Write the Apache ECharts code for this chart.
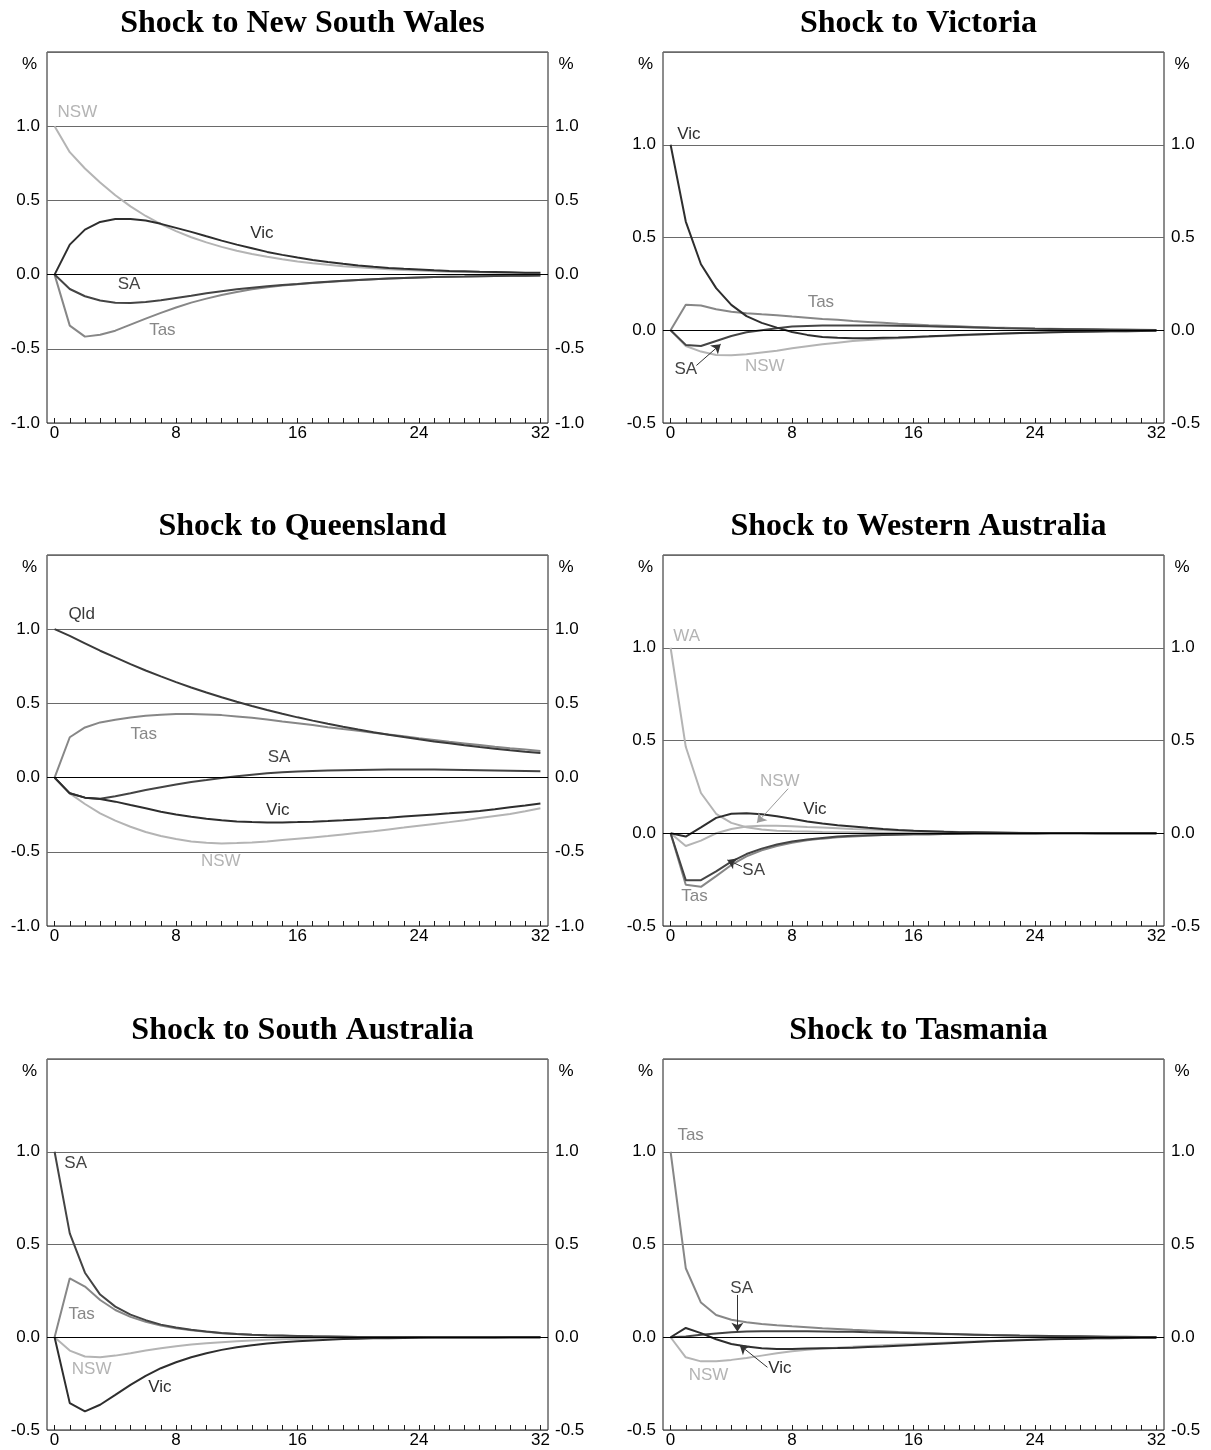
<!DOCTYPE html>
<html>
<head>
<meta charset="utf-8">
<script src="https://cdn.jsdelivr.net/npm/echarts@6/dist/echarts.min.js"></script>
<style>
  html, body { margin: 0; padding: 0; background: #fff; }
  #chart { width: 1211px; height: 1450px; }
</style>
</head>
<body>
<div id="chart"></div>
<script>
// quarters after the shock
const steps = [0, 1, 2, 3, 4, 5, 6, 7, 8, 9, 10, 11, 12, 13, 14, 15, 16, 17, 18, 19, 20, 21, 22, 23, 24, 25, 26, 27, 28, 29, 30, 31, 32]
const xLabels = [0, 8, 16, 24, 32]

// shock to New South Wales
const nsw1 = [1.0, 0.825, 0.715, 0.62, 0.535, 0.46, 0.395, 0.34, 0.293, 0.252, 0.217, 0.187, 0.161, 0.139, 0.12, 0.103, 0.089, 0.077, 0.066, 0.057, 0.049, 0.042, 0.036, 0.031, 0.027, 0.023, 0.02, 0.017, 0.015, 0.013, 0.011, 0.01, 0.009]
const vic1 = [0, 0.202, 0.303, 0.355, 0.375, 0.375, 0.364, 0.342, 0.315, 0.288, 0.258, 0.229, 0.202, 0.178, 0.153, 0.133, 0.115, 0.099, 0.085, 0.073, 0.062, 0.053, 0.045, 0.039, 0.034, 0.029, 0.025, 0.022, 0.019, 0.017, 0.015, 0.013, 0.012]
const sa1 = [0, -0.097, -0.146, -0.175, -0.189, -0.191, -0.184, -0.173, -0.157, -0.142, -0.126, -0.112, -0.099, -0.088, -0.079, -0.07, -0.063, -0.055, -0.048, -0.042, -0.036, -0.031, -0.027, -0.023, -0.02, -0.017, -0.015, -0.013, -0.011, -0.009, -0.008, -0.007, -0.006]
const tas1 = [0, -0.344, -0.418, -0.405, -0.378, -0.337, -0.297, -0.258, -0.222, -0.189, -0.162, -0.137, -0.117, -0.099, -0.085, -0.074, -0.065, -0.057, -0.05, -0.043, -0.037, -0.032, -0.027, -0.023, -0.02, -0.017, -0.015, -0.013, -0.011, -0.009, -0.008, -0.007, -0.006]

// shock to Victoria
const vic2 = [1.0, 0.586, 0.356, 0.227, 0.137, 0.076, 0.04, 0.014, -0.009, -0.025, -0.036, -0.041, -0.043, -0.043, -0.041, -0.039, -0.036, -0.033, -0.029, -0.026, -0.023, -0.02, -0.017, -0.015, -0.013, -0.011, -0.009, -0.008, -0.007, -0.006, -0.005, -0.004, -0.003]
const tas2 = [0, 0.138, 0.133, 0.113, 0.1, 0.092, 0.086, 0.081, 0.074, 0.068, 0.061, 0.056, 0.05, 0.045, 0.04, 0.035, 0.031, 0.027, 0.024, 0.021, 0.018, 0.015, 0.013, 0.011, 0.009, 0.008, 0.007, 0.006, 0.005, 0.004, 0.003, 0.003, 0.002]
const sa2 = [0, -0.079, -0.085, -0.058, -0.031, -0.011, 0.0, 0.011, 0.02, 0.023, 0.025, 0.026, 0.026, 0.026, 0.025, 0.024, 0.023, 0.021, 0.019, 0.017, 0.015, 0.013, 0.011, 0.01, 0.008, 0.007, 0.006, 0.005, 0.004, 0.003, 0.003, 0.002, 0.002]
const nsw2 = [0, -0.085, -0.115, -0.133, -0.135, -0.13, -0.12, -0.11, -0.097, -0.086, -0.076, -0.067, -0.058, -0.052, -0.047, -0.043, -0.039, -0.035, -0.031, -0.028, -0.024, -0.021, -0.018, -0.016, -0.014, -0.012, -0.01, -0.009, -0.008, -0.006, -0.005, -0.004, -0.004]

// shock to Queensland
const qld3 = [1.0, 0.955, 0.905, 0.855, 0.81, 0.765, 0.722, 0.682, 0.643, 0.607, 0.573, 0.541, 0.511, 0.483, 0.456, 0.43, 0.406, 0.384, 0.363, 0.343, 0.324, 0.306, 0.289, 0.273, 0.258, 0.244, 0.231, 0.218, 0.206, 0.195, 0.184, 0.174, 0.165]
const tas3 = [0, 0.272, 0.338, 0.372, 0.39, 0.405, 0.417, 0.423, 0.428, 0.428, 0.426, 0.421, 0.412, 0.403, 0.392, 0.378, 0.367, 0.354, 0.34, 0.327, 0.315, 0.303, 0.291, 0.278, 0.265, 0.253, 0.241, 0.23, 0.219, 0.208, 0.198, 0.189, 0.18]
const sa3 = [0, -0.106, -0.135, -0.142, -0.126, -0.106, -0.083, -0.065, -0.047, -0.029, -0.016, -0.002, 0.009, 0.02, 0.029, 0.036, 0.041, 0.045, 0.048, 0.05, 0.052, 0.053, 0.054, 0.054, 0.054, 0.054, 0.053, 0.052, 0.05, 0.048, 0.046, 0.044, 0.042]
const vic3 = [0, -0.106, -0.135, -0.144, -0.162, -0.185, -0.207, -0.23, -0.248, -0.264, -0.277, -0.288, -0.295, -0.3, -0.302, -0.302, -0.3, -0.297, -0.293, -0.288, -0.282, -0.276, -0.27, -0.262, -0.255, -0.248, -0.241, -0.233, -0.225, -0.213, -0.2, -0.188, -0.175]
const nsw3 = [0, -0.106, -0.178, -0.241, -0.29, -0.331, -0.367, -0.394, -0.414, -0.43, -0.439, -0.444, -0.441, -0.437, -0.43, -0.421, -0.412, -0.403, -0.394, -0.383, -0.372, -0.361, -0.349, -0.337, -0.324, -0.312, -0.3, -0.287, -0.273, -0.259, -0.245, -0.227, -0.207]

// shock to Western Australia
const wa4 = [1.0, 0.466, 0.217, 0.105, 0.056, 0.032, 0.02, 0.014, 0.011, 0.009, 0.007, 0.006, 0.005, 0.004, 0.003, 0.003, 0.002, 0.002, 0.001, 0.001, 0.001, 0.001, 0.001, 0, 0, 0, 0, 0, 0, 0, 0, 0, 0]
const nsw4 = [0, -0.069, -0.04, 0.0, 0.023, 0.036, 0.04, 0.04, 0.038, 0.034, 0.031, 0.027, 0.023, 0.02, 0.018, 0.015, 0.013, 0.011, 0.009, 0.007, 0.006, 0.005, 0.004, 0.003, 0.002, 0.002, 0.001, 0.001, 0.001, 0, 0, 0, 0]
const vic4 = [0, -0.018, 0.032, 0.083, 0.105, 0.108, 0.103, 0.092, 0.078, 0.063, 0.052, 0.043, 0.036, 0.029, 0.023, 0.018, 0.014, 0.011, 0.008, 0.006, 0.005, 0.004, 0.003, 0.002, 0.002, 0.001, 0.001, 0.001, 0, 0, 0, 0, 0]
const sa4 = [0, -0.253, -0.253, -0.206, -0.153, -0.112, -0.083, -0.061, -0.045, -0.034, -0.025, -0.018, -0.014, -0.011, -0.009, -0.007, -0.006, -0.005, -0.004, -0.003, -0.002, -0.002, -0.001, -0.001, -0.001, 0, 0, 0, 0, 0, 0, 0, 0]
const tas4 = [0, -0.278, -0.289, -0.231, -0.171, -0.125, -0.092, -0.069, -0.051, -0.038, -0.029, -0.022, -0.017, -0.013, -0.01, -0.008, -0.006, -0.005, -0.004, -0.003, -0.002, -0.002, -0.001, -0.001, -0.001, 0, 0, 0, 0, 0, 0, 0, 0]

// shock to South Australia
const sa5 = [1.0, 0.56, 0.348, 0.23, 0.165, 0.122, 0.092, 0.068, 0.052, 0.04, 0.031, 0.023, 0.018, 0.014, 0.011, 0.009, 0.007, 0.005, 0.004, 0.003, 0.002, 0.002, 0.001, 0.001, 0.001, 0, 0, 0, 0, 0, 0, 0, 0]
const tas5 = [0, 0.318, 0.273, 0.201, 0.147, 0.11, 0.083, 0.063, 0.048, 0.038, 0.029, 0.022, 0.017, 0.013, 0.01, 0.008, 0.006, 0.005, 0.004, 0.003, 0.002, 0.002, 0.001, 0.001, 0.001, 0, 0, 0, 0, 0, 0, 0, 0]
const nsw5 = [0, -0.072, -0.104, -0.108, -0.099, -0.086, -0.072, -0.059, -0.048, -0.039, -0.032, -0.027, -0.022, -0.018, -0.014, -0.011, -0.009, -0.007, -0.005, -0.004, -0.003, -0.002, -0.002, -0.001, -0.001, 0, 0, 0, 0, 0, 0, 0, 0]
const vic5 = [0, -0.355, -0.4, -0.364, -0.311, -0.257, -0.208, -0.167, -0.135, -0.108, -0.086, -0.068, -0.054, -0.043, -0.034, -0.027, -0.022, -0.017, -0.013, -0.01, -0.008, -0.006, -0.005, -0.004, -0.003, -0.002, -0.002, -0.001, -0.001, -0.001, 0, 0, 0]

// shock to Tasmania
const tas6 = [1.0, 0.372, 0.187, 0.12, 0.094, 0.081, 0.072, 0.065, 0.059, 0.054, 0.049, 0.045, 0.04, 0.036, 0.032, 0.028, 0.025, 0.022, 0.019, 0.016, 0.014, 0.012, 0.01, 0.008, 0.007, 0.006, 0.005, 0.004, 0.003, 0.002, 0.002, 0.001, 0.001]
const sa6 = [0, 0.004, 0.013, 0.02, 0.027, 0.031, 0.032, 0.032, 0.032, 0.032, 0.031, 0.03, 0.029, 0.027, 0.026, 0.024, 0.022, 0.02, 0.018, 0.016, 0.014, 0.012, 0.011, 0.009, 0.008, 0.007, 0.006, 0.005, 0.004, 0.003, 0.003, 0.002, 0.002]
const vic6 = [0, 0.05, 0.022, -0.011, -0.036, -0.05, -0.059, -0.063, -0.063, -0.061, -0.059, -0.058, -0.056, -0.053, -0.05, -0.046, -0.042, -0.038, -0.034, -0.03, -0.026, -0.022, -0.019, -0.016, -0.013, -0.011, -0.009, -0.008, -0.006, -0.005, -0.004, -0.003, -0.003]
const nsw6 = [0, -0.108, -0.13, -0.13, -0.122, -0.112, -0.099, -0.086, -0.076, -0.068, -0.061, -0.056, -0.051, -0.047, -0.043, -0.039, -0.036, -0.032, -0.029, -0.026, -0.023, -0.02, -0.017, -0.014, -0.012, -0.01, -0.008, -0.007, -0.006, -0.005, -0.004, -0.003, -0.003]

const stateColors = {
  NSW: '#b4b4b4',
  WA: '#b4b4b4',
  Tas: '#878787',
  Vic: '#2e2e2e',
  SA: '#444444',
  Qld: '#3a3a3a'
}

// tag = where the state name sits, arrow = pointer from the name to its line (data units)
const panels = [
  { title: 'Shock to New South Wales', yMin: -1, lines: [
    { name: 'NSW', data: nsw1, tag: [1.5, 1.095] },
    { name: 'Tas', data: tas1, tag: [7.1, -0.378] },
    { name: 'SA', data: sa1, tag: [4.9, -0.068] },
    { name: 'Vic', data: vic1, tag: [13.65, 0.277] }
  ]},
  { title: 'Shock to Victoria', yMin: -0.5, lines: [
    { name: 'NSW', data: nsw2, tag: [6.2, -0.192] },
    { name: 'Tas', data: tas2, tag: [9.9, 0.152] },
    { name: 'SA', data: sa2, tag: [1.0, -0.213], arrow: [[1.7, -0.19], [3.3, -0.075]] },
    { name: 'Vic', data: vic2, tag: [1.2, 1.056] }
  ]},
  { title: 'Shock to Queensland', yMin: -1, lines: [
    { name: 'NSW', data: nsw3, tag: [10.95, -0.566] },
    { name: 'Tas', data: tas3, tag: [5.87, 0.29] },
    { name: 'SA', data: sa3, tag: [14.78, 0.135] },
    { name: 'Vic', data: vic3, tag: [14.7, -0.222] },
    { name: 'Qld', data: qld3, tag: [1.78, 1.098] }
  ]},
  { title: 'Shock to Western Australia', yMin: -0.5, lines: [
    { name: 'WA', data: wa4, tag: [1.06, 1.063] },
    { name: 'NSW', data: nsw4, tag: [7.19, 0.279], arrow: [[7.74, 0.24], [5.69, 0.056]] },
    { name: 'Tas', data: tas4, tag: [1.58, -0.342] },
    { name: 'SA', data: sa4, tag: [5.47, -0.202], arrow: [[4.7, -0.18], [3.74, -0.144]] },
    { name: 'Vic', data: vic4, tag: [9.5, 0.129] }
  ]},
  { title: 'Shock to South Australia', yMin: -0.5, lines: [
    { name: 'NSW', data: nsw5, tag: [2.44, -0.171] },
    { name: 'Tas', data: tas5, tag: [1.78, 0.126] },
    { name: 'SA', data: sa5, tag: [1.39, 0.935] },
    { name: 'Vic', data: vic5, tag: [6.93, -0.268] }
  ]},
  { title: 'Shock to Tasmania', yMin: -0.5, lines: [
    { name: 'NSW', data: nsw6, tag: [2.5, -0.203] },
    { name: 'Tas', data: tas6, tag: [1.32, 1.086] },
    { name: 'SA', data: sa6, tag: [4.68, 0.266], arrow: [[4.4, 0.228], [4.4, 0.03]] },
    { name: 'Vic', data: vic6, tag: [7.2, -0.166], arrow: [[6.38, -0.162], [4.55, -0.042]] }
  ]}
]

const boxes = [
  { left: 47, top: 52, tTop: 3 }, { left: 663, top: 52, tTop: 3 },
  { left: 47, top: 555, tTop: 506 }, { left: 663, top: 555, tTop: 506 },
  { left: 47, top: 1059, tTop: 1010 }, { left: 663, top: 1059, tTop: 1010 }
]
const boxW = 501
const boxH = 371
const sans = 'Liberation Sans, Arial, sans-serif'
const textStyle = { fontFamily: sans, fontSize: 17, color: '#000' }

const chart = echarts.init(document.getElementById('chart'), null, { renderer: 'canvas' })

const title = []
const grid = []
const xAxis = []
const yAxis = []
const series = []

panels.forEach((p, i) => {
  const b = boxes[i]
  title.push({
    text: p.title,
    left: b.left + boxW / 2,
    top: b.tTop,
    textAlign: 'center',
    textStyle: { fontFamily: 'Liberation Serif, Times New Roman, serif', fontWeight: 'bold', fontSize: 32, color: '#000' }
  })
  grid.push({
    left: b.left, top: b.top, width: boxW, height: boxH,
    show: true, borderColor: '#1a1a1a', borderWidth: 1, backgroundColor: 'transparent'
  })
  xAxis.push({
    gridIndex: i,
    type: 'value',
    min: -0.5,
    max: 32.5,
    axisLine: { show: false, onZero: false },
    axisTick: { show: true, inside: true, length: 5, customValues: steps, lineStyle: { color: '#1a1a1a', width: 1 } },
    axisLabel: { customValues: xLabels, margin: 2, ...textStyle },
    splitLine: { show: false }
  })
  const yBase = {
    gridIndex: i,
    type: 'value',
    min: p.yMin,
    max: 1.5,
    interval: 0.5,
    name: '%',
    nameLocation: 'end',
    nameGap: -12,
    axisLine: { show: false },
    axisTick: { show: false },
    axisLabel: { margin: 7, formatter: v => (v > 1.2 ? '' : v.toFixed(1)), ...textStyle }
  }
  yAxis.push({
    ...yBase,
    position: 'left',
    nameTextStyle: { ...textStyle, align: 'center', verticalAlign: 'middle', padding: [0, 50, 0, 0] },
    splitLine: { show: true, lineStyle: { color: '#6a6a6a', width: 1 } }
  })
  yAxis.push({
    ...yBase,
    position: 'right',
    nameTextStyle: { ...textStyle, align: 'center', verticalAlign: 'middle', padding: [0, 0, 0, 36] },
    splitLine: { show: false }
  })

  // black zero line
  series.push({
    type: 'line',
    xAxisIndex: i,
    yAxisIndex: 2 * i,
    data: [],
    silent: true,
    z: 1,
    markLine: {
      silent: true,
      symbol: 'none',
      animation: false,
      label: { show: false },
      lineStyle: { color: '#000', width: 1, type: 'solid' },
      data: [{ yAxis: 0 }]
    }
  })

  p.lines.forEach(l => {
    const color = stateColors[l.name]
    const s = {
      name: l.name,
      type: 'line',
      xAxisIndex: i,
      yAxisIndex: 2 * i,
      data: steps.map((t, k) => [t, l.data[k]]),
      symbol: 'none',
      smooth: false,
      silent: true,
      z: 3,
      lineStyle: { color: color, width: 2 },
      itemStyle: { color: color },
      markPoint: {
        silent: true,
        animation: false,
        symbol: 'circle',
        symbolSize: 1,
        itemStyle: { color: 'rgba(0,0,0,0)' },
        label: { show: true, position: 'inside', formatter: l.name, fontFamily: sans, fontSize: 17, color: color },
        data: [{ coord: l.tag }]
      }
    }
    if (l.arrow) {
      s.markLine = {
        silent: true,
        animation: false,
        symbol: ['none', 'arrow'],
        symbolSize: 9,
        label: { show: false },
        lineStyle: { color: l.name === 'NSW' ? '#9a9a9a' : '#333', width: 1, type: 'solid' },
        data: [[{ coord: l.arrow[0] }, { coord: l.arrow[1] }]]
      }
    }
    series.push(s)
  })
})

chart.setOption({
  animation: false,
  backgroundColor: '#fff',
  title: title,
  grid: grid,
  xAxis: xAxis,
  yAxis: yAxis,
  series: series
})
</script>
</body>
</html>
